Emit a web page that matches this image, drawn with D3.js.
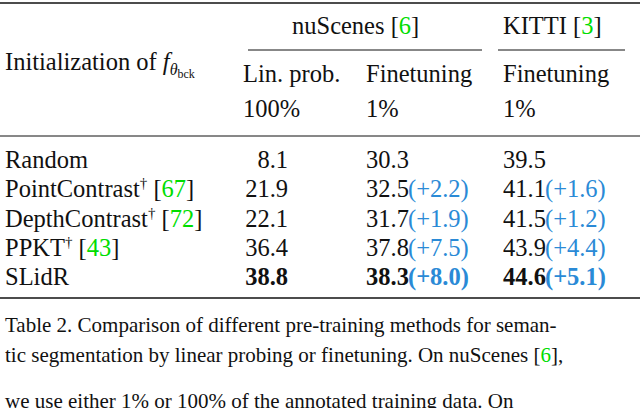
<!DOCTYPE html>
<html><head><meta charset="utf-8">
<script src="https://cdn.jsdelivr.net/npm/d3@7"></script>
<style>body{margin:0;background:#fff}text{font-family:"Liberation Serif","DejaVu Serif",serif;fill:#111}</style>
</head><body><svg id="s" width="640" height="408"></svg>
<script>
const methods=["Random","PointContrast","DepthContrast","PPKT","SLidR"];
const dagger=[false,true,true,true,false];
const cites=["","67","72","43",""];
const linProb=["8.1","21.9","22.1","36.4","38.8"];
const ftNus=["30.3","32.5","31.7","37.8","38.3"];
const dNus=["","(+2.2)","(+1.9)","(+7.5)","(+8.0)"];
const ftKitti=["39.5","41.1","41.5","43.9","44.6"];
const dKitti=["","(+1.6)","(+1.2)","(+4.4)","(+5.1)"];
const GREEN="#00dd00",BLUE="#2a8ad6";
const svg=d3.select("#s");
const y=d3.scaleBand().domain(methods).range([145,292]);
const fs=24.5;
function line(y0,x0,x1,w){svg.append("line").attr("x1",x0).attr("x2",x1).attr("y1",y0).attr("y2",y0).attr("stroke","#111").attr("stroke-width",w);}
line(3,0,640,1.6);line(136,0,640,1);line(298,0,640,1.6);
line(50,248,482,1);line(50,498,625,1);
function txt(x,yy,s,o={}){return svg.append("text").attr("x",x).attr("y",yy).attr("font-size",o.fs||fs).attr("text-anchor",o.a||"start").attr("font-weight",o.b?"bold":null).style("fill",o.c||"#111").text(s);}
let h=svg.append("text").attr("x",292).attr("y",34).attr("font-size",fs);
h.append("tspan").text("nuScenes [");h.append("tspan").style("fill",GREEN).text("6");h.append("tspan").text("]");
h=svg.append("text").attr("x",503).attr("y",34).attr("font-size",fs);
h.append("tspan").text("KITTI [");h.append("tspan").style("fill",GREEN).text("3");h.append("tspan").text("]");
h=svg.append("text").attr("x",5).attr("y",70).attr("font-size",fs);
h.append("tspan").text("Initialization of ");
h.append("tspan").attr("font-style","italic").text("f");
h.append("tspan").attr("font-size",16).attr("font-style","italic").attr("dy",5).text("θ");
h.append("tspan").attr("font-size",12).attr("dy",3).text("bck");
txt(243,82,"Lin. prob.");txt(243,117,"100%");
txt(366,82,"Finetuning");txt(366,117,"1%");
txt(503,82,"Finetuning");txt(503,117,"1%");
methods.forEach((m,i)=>{
  const yy=y(m)+y.bandwidth()/2+8;const b=m==="SLidR";
  const t=svg.append("text").attr("x",5).attr("y",yy).attr("font-size",fs);
  t.append("tspan").text(m);
  if(dagger[i]) t.append("tspan").attr("font-size",15).attr("dy",-9).text("†");
  if(cites[i]){t.append("tspan").attr("dy",dagger[i]?9:0).text(" [");t.append("tspan").style("fill",GREEN).text(cites[i]);t.append("tspan").text("]");}
  txt(288,yy,linProb[i],{a:"end",b});
  txt(366,yy,ftNus[i],{b});txt(408,yy,dNus[i],{b,c:BLUE});
  txt(503,yy,ftKitti[i],{b});txt(545,yy,dKitti[i],{b,c:BLUE});
});
const cap=[
 [["Table 2. Comparison of different pre-training methods for seman-",null]],
 [["tic segmentation by linear probing or finetuning. On nuScenes [",null],["6",GREEN],["],",null]],
 [["we use either 1% or 100% of the annotated training data. On",null]]];
const cy=[332,362,408];
cap.forEach((l,i)=>{const t=svg.append("text").attr("x",5).attr("y",cy[i]).attr("font-size",21);
 l.forEach(([s,c])=>t.append("tspan").style("fill",c||"#111").text(s));});
</script></body></html>
